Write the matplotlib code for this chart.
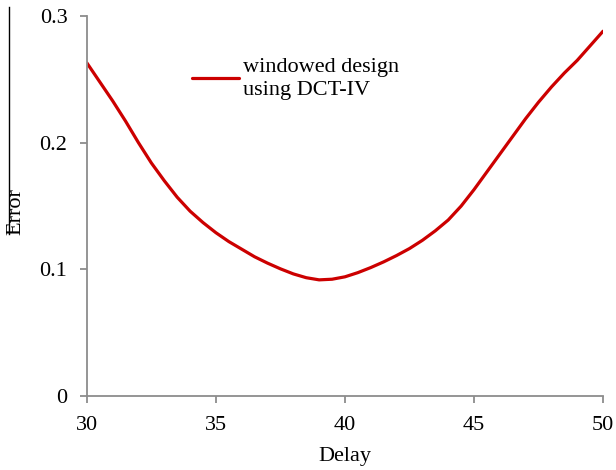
import matplotlib
matplotlib.use("Agg")
import matplotlib.pyplot as plt
from matplotlib.lines import Line2D

# Error vs delay, sampled off the reference curve (every half step)
delay = [30.0, 30.5, 31.0, 31.5, 32.0, 32.5, 33.0, 33.5, 34.0, 34.5, 35.0,
         35.5, 36.0, 36.5, 37.0, 37.5, 38.0, 38.5, 39.0, 39.5, 40.0,
         40.5, 41.0, 41.5, 42.0, 42.5, 43.0, 43.5, 44.0, 44.5, 45.0,
         45.5, 46.0, 46.5, 47.0, 47.5, 48.0, 48.5, 49.0, 49.5, 50.0]
error = [0.263, 0.248, 0.233, 0.217, 0.200, 0.184, 0.170, 0.157, 0.146, 0.137, 0.129,
         0.122, 0.116, 0.110, 0.105, 0.1005, 0.0965, 0.0935, 0.0918, 0.0923, 0.0942,
         0.0975, 0.1015, 0.106, 0.111, 0.1165, 0.123, 0.1305, 0.139, 0.150, 0.163,
         0.177, 0.191, 0.205, 0.219, 0.232, 0.244, 0.255, 0.265, 0.2765, 0.288]
x_ticks = [30, 35, 40, 45, 50]
y_ticks = [0, 0.1, 0.2, 0.3]
y_tick_labels = ["0", "0.1", "0.2", "0.3"]

plt.rcParams['font.family'] = ['Liberation Serif', 'DejaVu Serif']
fs = 16
gray = '#8c8c8c'

fig = plt.figure(figsize=(6.16, 4.70), dpi=100)
ax = fig.add_axes([0.141, 0.157, 0.838, 0.809])

ax.plot(delay, error, color='#cc0000', linewidth=2.3, solid_capstyle='round',
        solid_joinstyle='round', label='windowed design\nusing DCT-IV')

ax.set_xlim(30, 50)
ax.set_ylim(0, 0.3)
ax.set_xticks(x_ticks)
ax.set_yticks(y_ticks)
ax.set_yticklabels(y_tick_labels)

for side in ('top', 'right'):
    ax.spines[side].set_visible(False)
for side in ('left', 'bottom'):
    ax.spines[side].set_color(gray)
    ax.spines[side].set_linewidth(1.3)
ax.tick_params(axis='both', direction='out', length=5, width=1.3, color=gray,
               labelsize=fs, pad=9)

ax.set_xlabel('Delay', fontsize=fs, labelpad=9)
fig.text(16 / 616, 1 - 212 / 470, 'Error', rotation=90, fontsize=fs,
         ha='center', va='center')
# stray vertical rule left of the plot
fig.add_artist(Line2D([9 / 616, 9 / 616], [1 - 7 / 470, 1 - 234 / 470],
                      color='black', linewidth=1.0))

leg = ax.legend(loc='upper left', bbox_to_anchor=(192 / 616, 1 - 58 / 470),
                bbox_transform=fig.transFigure, frameon=False, fontsize=fs,
                handlelength=2.1, handletextpad=0.2, borderpad=0, borderaxespad=0)
for t in leg.get_texts():
    t.set_linespacing(1.3)

fig.savefig('out.png', dpi=100)
